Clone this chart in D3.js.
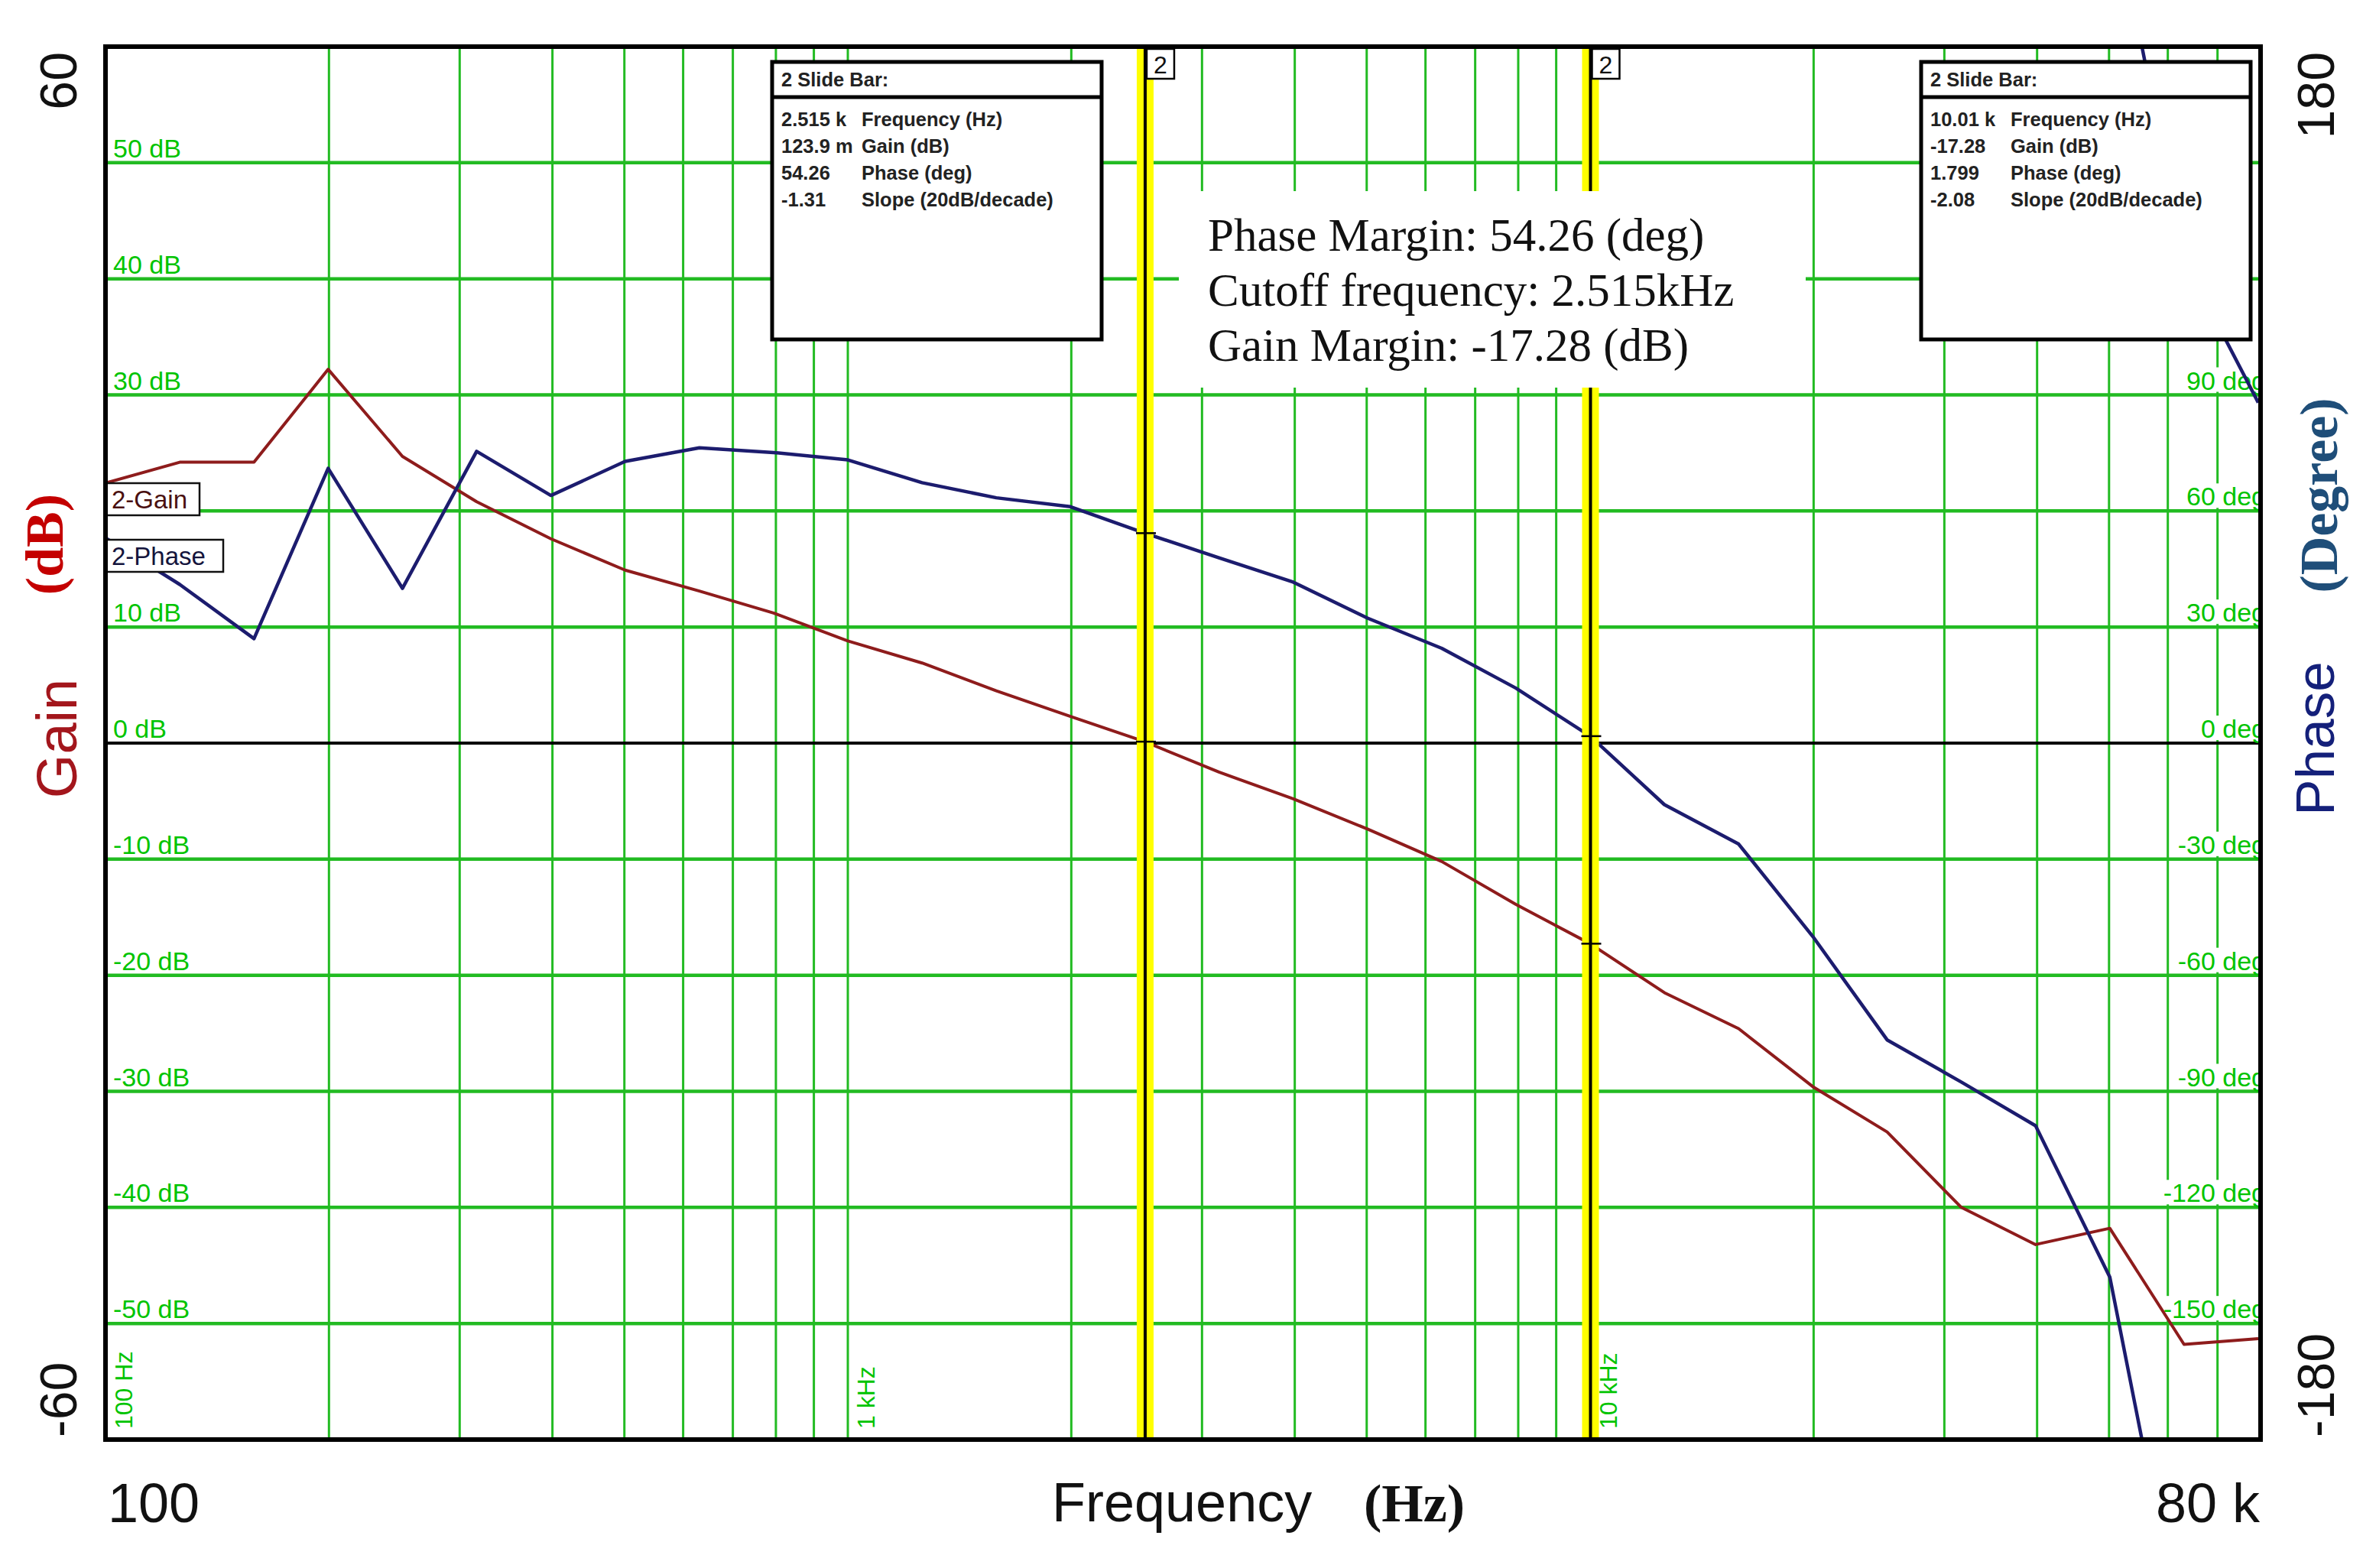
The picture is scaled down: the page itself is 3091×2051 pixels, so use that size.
<!DOCTYPE html>
<html><head><meta charset="utf-8">
<script src="https://cdn.jsdelivr.net/npm/d3@7"></script>
<style>html,body{margin:0;padding:0;background:#fff;} svg{display:block;}</style>
</head><body>
<script>
// ---------- DATA ----------
const frequencies = [100,125.9,158.5,199.5,251.2,316.2,398.1,501.2,631.0,794.3,1000,1259,1585,1995,2512,3162,3981,5012,6310,7943,10000,12589,15849,19953,25119,31623,39811,50119,63096,79433];
const gainDB   = [22.4,24.2,24.2,32.2,24.7,20.8,17.6,14.9,13.1,11.2,8.8,6.9,4.5,2.3,0.12,-2.5,-4.8,-7.4,-10.2,-13.9,-17.28,-21.5,-24.6,-29.6,-33.5,-40.0,-43.2,-41.8,-51.8,-51.3];
const phaseDeg = [53,41,27,71,40,75.4,64,72.8,76.3,75.1,73.2,67.3,63.4,61.1,54.26,47.9,41.6,32.3,24.5,14.2,1.8,-15.9,-26.1,-50,-76.7,-87.6,-98.9,-138,-235,-272];
// visible grid labels (20 dB, 150 deg and 120 deg are hidden behind the legend / readout box)
const gainTicks = [50,40,30,20,10,0,-10,-20,-30,-40,-50];
const gainLabelTicks = [50,40,30,10,0,-10,-20,-30,-40,-50];
const gainTickLabels = ["50 dB","40 dB","30 dB","10 dB","0 dB","-10 dB","-20 dB","-30 dB","-40 dB","-50 dB"];
const phaseLabelTicks = [90,60,30,0,-30,-60,-90,-120,-150];
const phaseTickLabels = ["90 deg","60 deg","30 deg","0 deg","-30 deg","-60 deg","-90 deg","-120 deg","-150 deg"];
const decadeFreqs = [100,1000,10000];
const decadeLabels = ["100 Hz","1 kHz","10 kHz"];
const xEndLabels = ["100","80 k"];
const gainEndLabels = ["60","-60"];
const phaseEndLabels = ["180","-180"];
const seriesNames = ["2-Gain","2-Phase"];
const cursorFreqs = [2515, 10010];
const cursorGain  = [0.1239, -17.28];
const cursorPhase = [54.26, 1.799];
const cursorReadouts = [["2.515 k","123.9 m","54.26","-1.31"],["10.01 k","-17.28","1.799","-2.08"]];
const readoutNames = ["Frequency (Hz)","Gain (dB)","Phase (deg)","Slope (20dB/decade)"];
const annotationLines = ["Phase Margin: 54.26 (deg)","Cutoff frequency: 2.515kHz","Gain Margin: -17.28 (dB)"];

// ---------- LAYOUT ----------
const W = 3091, H = 2051;
const L = 138, R = 2957, T = 61, B = 1883;
const SANS = "'Liberation Sans', Arial, sans-serif";
const SERIF = "'Liberation Serif', 'Times New Roman', serif";
const GRID = "#22bb22", GTEXT = "#00c400";
const GAINC = "#8e1c1c", PHASEC = "#1c1c6e";

const x = d3.scaleLog().domain([100, 80000]).range([L, R]);
const yG = d3.scaleLinear().domain([-60, 60]).range([B, T]);
const yP = d3.scaleLinear().domain([-180, 180]).range([B, T]);

const svg = d3.select("body").append("svg").attr("width", W).attr("height", H);
svg.append("rect").attr("width", W).attr("height", H).attr("fill", "#fff");
svg.append("defs").append("clipPath").attr("id", "plot")
  .append("rect").attr("x", L).attr("y", T).attr("width", R - L).attr("height", B - T);

const plot = svg.append("g").attr("clip-path", "url(#plot)");

// vertical grid
const vt = x.ticks().filter(f => f > 100 && f < 80000);
plot.append("g").selectAll("line").data(vt).join("line")
  .attr("x1", d => x(d)).attr("x2", d => x(d)).attr("y1", T).attr("y2", B)
  .attr("stroke", GRID).attr("stroke-width", 3);

// horizontal grid
plot.append("g").selectAll("line").data(gainTicks.filter(d => d !== 0)).join("line")
  .attr("x1", L).attr("x2", R).attr("y1", d => yG(d)).attr("y2", d => yG(d))
  .attr("stroke", GRID).attr("stroke-width", 4.5);
plot.append("line").attr("x1", L).attr("x2", R).attr("y1", yG(0)).attr("y2", yG(0))
  .attr("stroke", "#000").attr("stroke-width", 4);

// left gain labels
plot.append("g").selectAll("text").data(gainLabelTicks).join("text")
  .attr("x", L + 10).attr("y", d => yG(d) - 7)
  .attr("font-family", SANS).attr("font-size", 34).attr("fill", GTEXT)
  .text((d, i) => gainTickLabels[i]);

// right phase labels with white background
const rl = plot.append("g");
phaseLabelTicks.forEach((d, i) => {
  const g = rl.append("g");
  const t = g.append("text").attr("x", R + 7).attr("y", yP(d) - 7)
    .attr("text-anchor", "end").attr("font-family", SANS).attr("font-size", 34)
    .attr("fill", GTEXT).text(phaseTickLabels[i]);
  const bb = t.node().getBBox();
  g.insert("rect", "text").attr("x", bb.x - 4).attr("y", bb.y + 2)
    .attr("width", bb.width + 8).attr("height", yP(d) - 4 - (bb.y + 2)).attr("fill", "#fff");
});

// decade labels (vertical)
plot.append("g").selectAll("text").data(decadeFreqs).join("text")
  .attr("transform", d => `translate(${x(d) + 35},${B - 14}) rotate(-90)`)
  .attr("font-family", SANS).attr("font-size", 32).attr("fill", GTEXT)
  .text((d, i) => decadeLabels[i]);

// curves
const pts = frequencies.map((f, i) => ({f, g: gainDB[i], p: phaseDeg[i]}));
plot.append("path").datum(pts)
  .attr("d", d3.line().x(d => x(d.f)).y(d => yG(d.g)))
  .attr("fill", "none").attr("stroke", GAINC).attr("stroke-width", 4).attr("stroke-linejoin", "round");
plot.append("path").datum(pts)
  .attr("d", d3.line().x(d => x(d.f)).y(d => yP(d.p)))
  .attr("fill", "none").attr("stroke", PHASEC).attr("stroke-width", 4.5).attr("stroke-linejoin", "round");
// wrapped phase (+360) as drawn by the analyzer
plot.append("path").datum(pts)
  .attr("d", d3.line().x(d => x(d.f)).y(d => yP(d.p + 360)))
  .attr("fill", "none").attr("stroke", PHASEC).attr("stroke-width", 4.5).attr("stroke-linejoin", "round");

// cursor bars
cursorFreqs.forEach(f => {
  plot.append("rect").attr("x", x(f) - 11).attr("y", T).attr("width", 22).attr("height", B - T).attr("fill", "#ffff00");
  plot.append("line").attr("x1", x(f)).attr("x2", x(f)).attr("y1", T).attr("y2", B)
    .attr("stroke", "#000").attr("stroke-width", 4);
});
// cursor ticks
cursorFreqs.forEach((f, i) => {
  [yG(cursorGain[i]), yP(cursorPhase[i])].forEach(yy => {
    plot.append("line").attr("x1", x(f) - 12).attr("x2", x(f) + 14).attr("y1", yy).attr("y2", yy)
      .attr("stroke", "#000").attr("stroke-width", 2.5);
  });
});

// slide bar readout boxes
const boxX = [1010, 2513];
cursorReadouts.forEach((vals, i) => {
  const bx = boxX[i], by = 81, bw = 431, bh = 363;
  const g = svg.append("g");
  g.append("rect").attr("x", bx).attr("y", by).attr("width", bw).attr("height", bh)
    .attr("fill", "#fff").attr("stroke", "#000").attr("stroke-width", 5);
  g.append("line").attr("x1", bx).attr("x2", bx + bw).attr("y1", by + 46).attr("y2", by + 46)
    .attr("stroke", "#000").attr("stroke-width", 5);
  g.append("text").attr("x", bx + 12).attr("y", by + 32).attr("font-family", SANS)
    .attr("font-size", 25.5).attr("font-weight", "bold").attr("fill", "#222").text("2  Slide Bar:");
  vals.forEach((v, j) => {
    g.append("text").attr("x", bx + 12).attr("y", by + 84 + j * 35).attr("font-family", SANS)
      .attr("font-size", 25.5).attr("font-weight", "bold").attr("fill", "#222").text(v);
    g.append("text").attr("x", bx + 117).attr("y", by + 84 + j * 35).attr("font-family", SANS)
      .attr("font-size", 25.5).attr("font-weight", "bold").attr("fill", "#222").text(readoutNames[j]);
  });
});

// annotation box
const ann = svg.append("g");
ann.append("rect").attr("x", 1542).attr("y", 250).attr("width", 820).attr("height", 257).attr("fill", "#fff");
annotationLines.forEach((s, i) => {
  ann.append("text").attr("x", 1580).attr("y", 328 + i * 72).attr("font-family", SERIF)
    .attr("font-size", 61).attr("fill", "#111").text(s);
});

// cursor "2" markers
cursorFreqs.forEach(f => {
  const g = svg.append("g");
  g.append("rect").attr("x", x(f) + 2).attr("y", 64).attr("width", 36).attr("height", 39)
    .attr("fill", "#fff").attr("stroke", "#000").attr("stroke-width", 2.5);
  g.append("text").attr("x", x(f) + 20).attr("y", 96).attr("text-anchor", "middle")
    .attr("font-family", SANS).attr("font-size", 32).attr("fill", "#111").text("2");
});

// legend boxes
const legY = [632, 706], legW = [122, 153], legC = ["#4a1010", "#14143c"];
seriesNames.forEach((s, i) => {
  svg.append("rect").attr("x", L + 1).attr("y", legY[i]).attr("width", legW[i]).attr("height", 42)
    .attr("fill", "#fff").attr("stroke", "#111").attr("stroke-width", 2.5);
  svg.append("text").attr("x", L + 8).attr("y", legY[i] + 33).attr("font-family", SANS)
    .attr("font-size", 33).attr("fill", legC[i]).text(s);
});

// frame
svg.append("rect").attr("x", L).attr("y", T).attr("width", R - L).attr("height", B - T)
  .attr("fill", "none").attr("stroke", "#000").attr("stroke-width", 6);

// outer axis end labels
const rot = (xx, yy, anchor, txt, size, fam, col, weight) =>
  svg.append("text").attr("transform", `translate(${xx},${yy}) rotate(-90)`)
    .attr("text-anchor", anchor).attr("font-family", fam).attr("font-size", size)
    .attr("font-weight", weight || "normal").attr("fill", col).text(txt);
rot(100, 68, "end", gainEndLabels[0], 68, SANS, "#111");
rot(100, 1880, "start", gainEndLabels[1], 68, SANS, "#111");
rot(3053, 68, "end", phaseEndLabels[0], 68, SANS, "#111");
rot(3053, 1880, "start", phaseEndLabels[1], 68, SANS, "#111");
rot(100, 966, "middle", "Gain", 74, SANS, "#a3161c");
rot(82, 712, "middle", "(dB)", 70, SERIF, "#c40000", "bold");
rot(3053, 966, "middle", "Phase", 71, SANS, "#14207a");
rot(3057, 648, "middle", "(Degree)", 70, SERIF, "#1f4e79", "bold");

svg.append("text").attr("x", 141).attr("y", 1991).attr("font-family", SANS).attr("font-size", 72)
  .attr("fill", "#111").text(xEndLabels[0]);
svg.append("text").attr("x", 2956).attr("y", 1991).attr("text-anchor", "end").attr("font-family", SANS)
  .attr("font-size", 72).attr("fill", "#111").text(xEndLabels[1]);
svg.append("text").attr("x", 1376).attr("y", 1990).attr("font-family", SANS).attr("font-size", 72)
  .attr("fill", "#111").text("Frequency");
svg.append("text").attr("x", 1784).attr("y", 1990).attr("font-family", SERIF).attr("font-size", 70)
  .attr("font-weight", "bold").attr("fill", "#111").text("(Hz)");
</script>
</body></html>
